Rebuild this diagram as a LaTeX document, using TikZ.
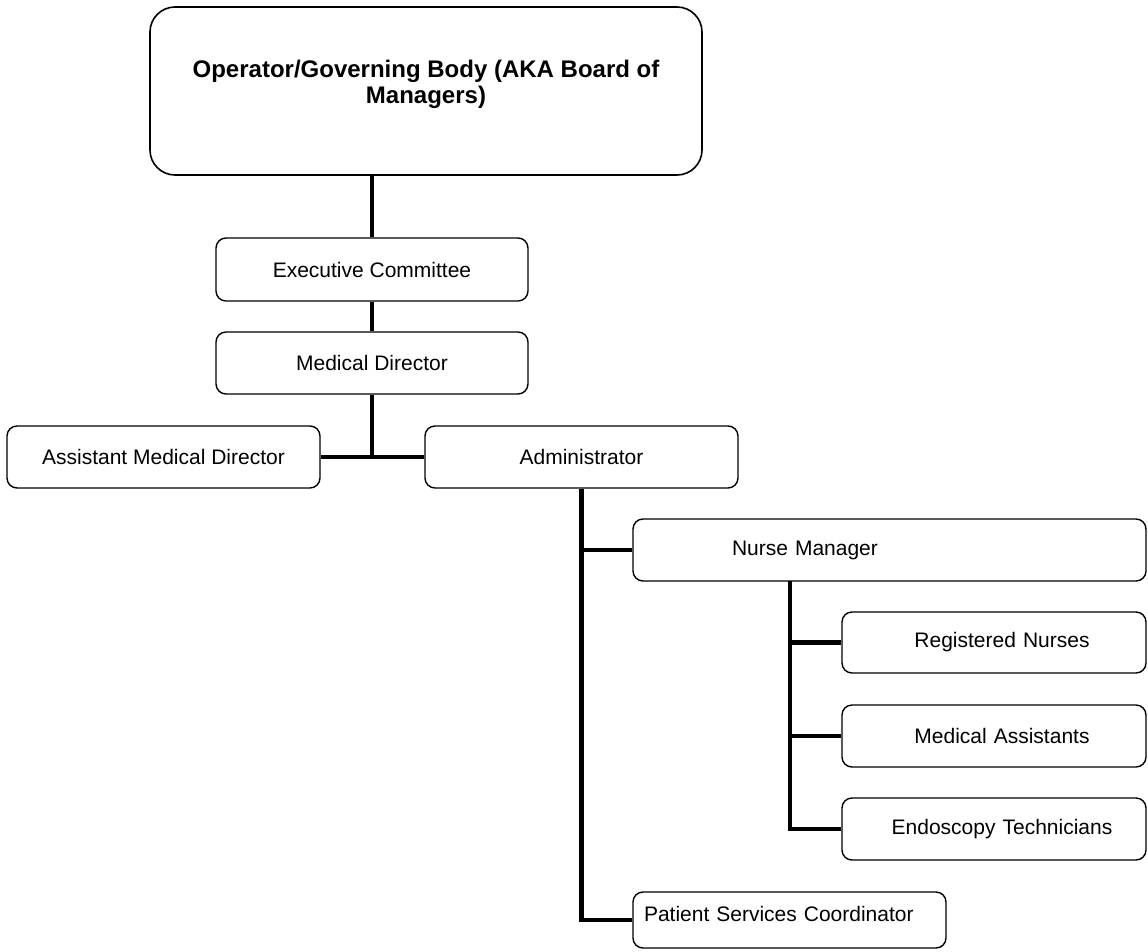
\documentclass[tikz,border=0pt]{standalone}
\usepackage{fontspec}
\setmainfont{Liberation Sans}
\begin{document}
\begin{tikzpicture}[x=1pt,y=-1pt,
  box/.style={draw=black, line width=1.4pt, rounded corners=10pt, fill=white,
    inner sep=0pt, font=\fontsize{21}{25}\selectfont, align=center},
  bigbox/.style={draw=black, line width=1.6pt, rounded corners=25pt, inner sep=0pt},
  bigtext/.style={font=\fontsize{24}{26}\selectfont\bfseries, align=center, inner sep=0pt},
  link/.style={line width=4.6pt, line cap=butt}]
\useasboundingbox (0,0) rectangle (1148,951);

\node[bigbox, minimum width=552pt, minimum height=168pt] (gov) at (426,91) {};
\node[bigtext, anchor=north] (govtext) at (426,60) {Operator/Governing Body (AKA Board of\\Managers)};

\node[box, minimum width=312pt, minimum height=63pt] (exec) at (372,269.5) {Executive Committee};
\node[box, minimum width=312pt, minimum height=62pt] (med) at (372,363) {Medical Director};
\node[box, minimum width=313pt, minimum height=62pt] (amd) at (163.5,457) {Assistant Medical Director};
\node[box, minimum width=313pt, minimum height=62pt] (adm) at (581.5,457) {Administrator};
\node[box, minimum width=513pt, minimum height=62pt, text width=315pt, align=left]
  (nm) at (889.5,550) {Nurse Manager};
\node[box, minimum width=304pt, minimum height=61pt, text width=288pt, align=right, inner xsep=0pt]
  (rn) at (994,642.5) {\makebox[288pt][c]{\hspace{16pt}Registered Nurses}};
\node[box, minimum width=304pt, minimum height=62pt, text width=288pt, align=right]
  (ma) at (994,736) {\makebox[288pt][c]{\hspace{16pt}Medical Assistants}};
\node[box, minimum width=304pt, minimum height=62pt, text width=288pt, align=right]
  (et) at (994,829) {\makebox[288pt][c]{\hspace{16pt}Endoscopy Technicians}};
\node[box, minimum width=313pt, minimum height=56pt, text width=291pt, text depth=12pt, align=left]
  (psc) at (789.5,920) {Patient Services Coordinator};

\coordinate (govj) at (372,175);
\coordinate (nmj) at (790,581);

\draw[link] (govj) -- (exec.north);
\draw[link] (exec.south) -- (med.north);
\draw[link] (med.south) -- (med.south |- amd.east);
\draw[link] (amd.east) -- (adm.west);
\draw[link] (adm.south) -- (adm.south |- psc.west) -- (psc.west);
\draw[link] (adm.south |- nm.west) -- (nm.west);
\draw[link] (nmj) -- (nmj |- et.west) -- (et.west);
\draw[link] (nmj |- rn.west) -- (rn.west);
\draw[link] (nmj |- ma.west) -- (ma.west);
\end{tikzpicture}
\end{document}
